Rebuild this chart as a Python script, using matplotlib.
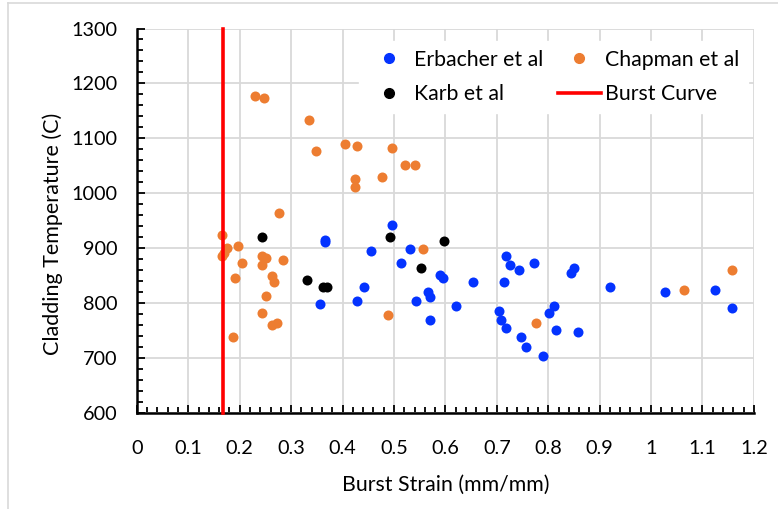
import numpy as np
import matplotlib.pyplot as plt
from matplotlib.lines import Line2D
from matplotlib.ticker import MultipleLocator

plt.rcParams['font.family'] = ['Lato', 'DejaVu Sans']

# Erbacher et al
erb_x = [0.366, 0.366, 0.455, 0.357, 0.429, 0.442, 0.497, 0.514, 0.531, 0.543,
         0.566, 0.570, 0.570, 0.590, 0.595, 0.654, 0.620, 0.718, 0.726, 0.743,
         0.772, 0.713, 0.705, 0.709, 0.718, 0.747, 0.756, 0.790, 0.802, 0.811,
         0.815, 0.845, 0.850, 0.857, 0.921, 1.027, 1.125, 1.158]
erb_y = [916, 911, 895, 799, 804, 830, 943, 873, 899, 804,
         821, 812, 769, 852, 847, 839, 795, 887, 869, 861,
         874, 839, 786, 770, 756, 739, 721, 704, 782, 795,
         751, 856, 865, 747, 830, 821, 825, 791]

# Chapman et al
chap_x = [0.230, 0.247, 0.335, 0.348, 0.404, 0.429, 0.497, 0.522, 0.540, 0.425,
          0.425, 0.476, 0.276, 0.166, 0.175, 0.170, 0.166, 0.196, 0.205, 0.191,
          0.243, 0.252, 0.243, 0.285, 0.263, 0.267, 0.251, 0.243, 0.263, 0.272,
          0.187, 0.488, 0.556, 0.776, 1.065, 1.158]
chap_y = [1178, 1173, 1134, 1078, 1090, 1087, 1082, 1051, 1051, 1027,
          1012, 1030, 965, 925, 900, 892, 886, 904, 873, 847,
          887, 882, 869, 878, 849, 839, 813, 782, 760, 765,
          738, 778, 899, 765, 825, 860]

# Karb et al
karb_x = [0.243, 0.331, 0.361, 0.370, 0.493, 0.552, 0.598]
karb_y = [921, 843, 830, 830, 921, 865, 913]

# Burst curve
burst_x = [0.167, 0.167]
burst_y = [600, 1300]

fig = plt.figure(figsize=(7.78, 5.09), dpi=100)
ax = fig.add_axes([0.176, 0.188, 0.793, 0.756])

ms = 52
ax.scatter(erb_x, erb_y, s=ms, color='#0433ff', zorder=3, linewidths=0)
ax.scatter(chap_x, chap_y, s=ms, color='#ed7d31', zorder=3, linewidths=0)
ax.scatter(karb_x, karb_y, s=ms, color='black', zorder=4, linewidths=0)
ax.plot(burst_x, burst_y, color='#ff0000', lw=2.6, zorder=5, clip_on=False,
        solid_capstyle='projecting')

ax.set_xlim(0, 1.2)
ax.set_ylim(600, 1300)
ax.xaxis.set_minor_locator(MultipleLocator(0.02))
ax.yaxis.set_major_locator(MultipleLocator(100))
ax.yaxis.set_minor_locator(MultipleLocator(20))
ax.set_xticks(np.arange(0, 1.21, 0.1))
ax.set_xticklabels(['0', '0.1', '0.2', '0.3', '0.4', '0.5', '0.6', '0.7',
                    '0.8', '0.9', '1', '1.1', '1.2'])

ax.grid(True, which='major', color='#d9d9d9', lw=1.3, zorder=0)
ax.set_axisbelow(True)
for s in ['top', 'right']:
    ax.spines[s].set_visible(False)
for s in ['left', 'bottom']:
    ax.spines[s].set_linewidth(1.8)
    ax.spines[s].set_color('black')
ax.tick_params(which='both', direction='in', color='black', width=1.3)
ax.tick_params(which='major', length=6, labelsize=14.3)
ax.tick_params(axis='x', which='major', pad=19)
ax.tick_params(axis='y', which='major', pad=14)
ax.tick_params(which='minor', length=4)

ax.set_xlabel('Burst Strain (mm/mm)', fontsize=15.3)
ax.set_ylabel('Cladding Temperature (C)', fontsize=15.5)
ax.xaxis.set_label_coords(0.5, -0.16)
ax.yaxis.set_label_coords(-0.12, 0.467)

handles = [
    Line2D([], [], ls='', marker='o', ms=7, color='#0433ff', label='Erbacher et al'),
    Line2D([], [], ls='', marker='o', ms=7, color='black', label='Karb et al'),
    Line2D([], [], ls='', marker='o', ms=7, color='#ed7d31', label='Chapman et al'),
    Line2D([], [], color='#ff0000', lw=2.6, label='Burst Curve'),
]
leg = ax.legend(handles=handles, ncol=2, loc='upper right', bbox_to_anchor=(0.99, 0.967),
                fontsize=15.3, frameon=True, fancybox=False, framealpha=1,
                edgecolor='white', handlelength=2.0, handletextpad=0.2,
                columnspacing=0.7, labelspacing=0.69, borderaxespad=0.0, borderpad=0.4)
leg.set_zorder(6)

# light outer border of the chart area
fig.add_artist(Line2D([0.010, 0.010], [0, 0.994], color='#d9d9d9', lw=1.2))
fig.add_artist(Line2D([0.010, 1.0], [0.994, 0.994], color='#d9d9d9', lw=1.2))

fig.savefig('out.png', dpi=100)
